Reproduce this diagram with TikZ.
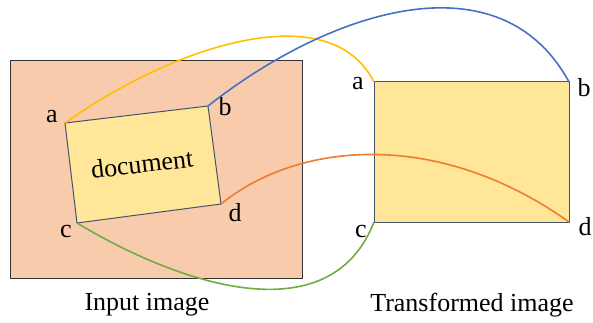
\documentclass[tikz,border=0pt]{standalone}
\usepackage{fontspec}
\setmainfont{Liberation Serif}
\definecolor{peach}{HTML}{F8CBAD}
\definecolor{paper}{HTML}{FFE699}
\definecolor{edgeblue}{HTML}{44546A}
\definecolor{cyellow}{HTML}{FFC000}
\definecolor{cblue}{HTML}{4472C4}
\definecolor{corange}{HTML}{ED7D31}
\definecolor{cgreen}{HTML}{70AD47}
\tikzset{
  lbl/.style={font=\fontsize{26}{29}\selectfont, inner sep=0pt},
  link/.style={line width=1.6pt},
  quad/.style={draw=edgeblue, line width=1pt, fill=paper},
}
\begin{document}
\begin{tikzpicture}[x=1pt,y=-1pt]
\useasboundingbox (0,0) rectangle (593,323);
% input image frame
\draw[fill=peach, draw=black!80, line width=1pt] (10,61) rectangle (302,278);
% skewed document corners
\coordinate (a) at (65,123);
\coordinate (b) at (208,106);
\coordinate (d) at (221,204);
\coordinate (c) at (77,223);
\draw[quad] (a) -- (b) -- (d) -- (c) -- cycle;
\node[lbl, rotate=6.8] (doc) at (142,164) {document};
% transformed rectangle corners
\coordinate (a2) at (374,82);
\coordinate (b2) at (569,82);
\coordinate (d2) at (569,222);
\coordinate (c2) at (374,222);
\draw[quad] (a2) -- (b2) -- (d2) -- (c2) -- cycle;
% corner labels
\node[lbl] (la) at (52,117) {a};
\node[lbl] (lb) at (225,107) {b};
\node[lbl] (lc) at (66,232) {c};
\node[lbl] (ld) at (235,213) {d};
\node[lbl] (la2) at (358,84) {a};
\node[lbl] (lb2) at (584,88) {b};
\node[lbl] (lc2) at (361,231) {c};
\node[lbl] (ld2) at (585,227) {d};
% correspondence curves
\draw[link, cyellow] (a) .. controls (175,45) and (330,-5) .. (a2);
\draw[link, cblue] (b) .. controls (330,10) and (500,-45) .. (b2);
\draw[link, corange] (d) .. controls (300,140) and (440,130) .. (d2);
\draw[link, cgreen] (c) .. controls (180,285) and (330,335) .. (c2);
% captions
\node[lbl] (cap1) at (147,305) {Input image};
\node[lbl] (cap2) at (472,305) {Transformed image};
\end{tikzpicture}
\end{document}
